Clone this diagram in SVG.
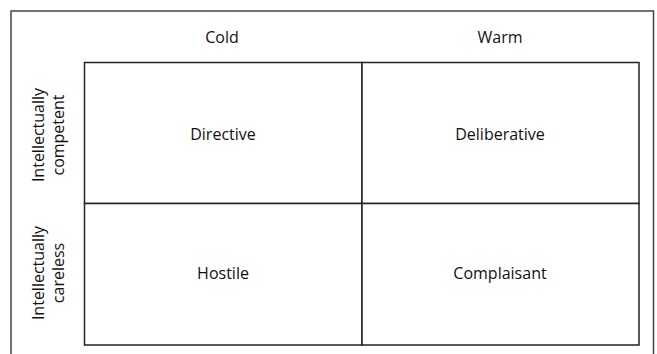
<svg xmlns="http://www.w3.org/2000/svg" width="657" height="354" viewBox="0 0 657 354">
  <style>
    .frame { fill: none; stroke: #444; stroke-width: 1.5; }
    .cell { fill: #fff; stroke: #222; stroke-width: 1.5; }
    text { font-family: "Open Sans", "Liberation Sans", sans-serif; font-size: 16px; fill: #111; text-anchor: middle; dominant-baseline: central; }
  </style>
  <rect width="657" height="354" fill="#fff"/>
  <rect class="frame" x="11" y="11" width="642.5" height="360"/>

  <g id="col-headers">
    <text x="222" y="37">Cold</text>
    <text x="500" y="37">Warm</text>
  </g>

  <g id="row-headers">
    <text transform="translate(48,135) rotate(-90)"><tspan x="0" dy="-10">Intellectually</tspan><tspan x="0" dy="20">competent</tspan></text>
    <text transform="translate(48,273) rotate(-90)"><tspan x="0" dy="-10">Intellectually</tspan><tspan x="0" dy="20">careless</tspan></text>
  </g>

  <g id="directive">
    <rect class="cell" x="84.5" y="62.5" width="277.5" height="141"/>
    <text x="223" y="134">Directive</text>
  </g>
  <g id="deliberative">
    <rect class="cell" x="362" y="62.5" width="277" height="141"/>
    <text x="500" y="134">Deliberative</text>
  </g>
  <g id="hostile">
    <rect class="cell" x="84.5" y="203.5" width="277.5" height="141.5"/>
    <text x="223" y="273">Hostile</text>
  </g>
  <g id="complaisant">
    <rect class="cell" x="362" y="203.5" width="277" height="141.5"/>
    <text x="500" y="273">Complaisant</text>
  </g>

  <g id="connectors"></g>
</svg>
